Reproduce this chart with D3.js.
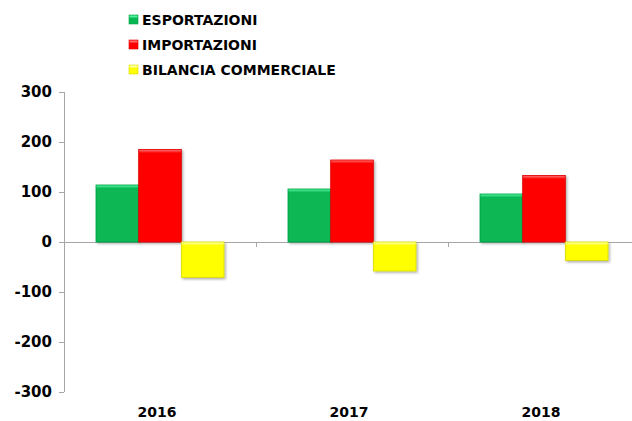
<!DOCTYPE html>
<meta charset="utf-8">
<style>
body { margin: 0; background: #fff; }
text { font-family: "DejaVu Sans", Verdana, sans-serif; font-weight: bold; fill: #000; }
.axis path, .axis line { stroke: #a6a6a6; }
</style>
<svg width="632" height="421"></svg>
<script src="https://cdn.jsdelivr.net/npm/d3@7/dist/d3.min.js"></script>
<script>

var years = ["2016", "2017", "2018"];
var series = ["ESPORTAZIONI", "IMPORTAZIONI", "BILANCIA COMMERCIALE"];
var esportazioni = [114, 106, 96];
var importazioni = [185, 164, 133];
var bilancia = [-71, -58, -37];
var yTicks = [300, 200, 100, 0, -100, -200, -300];

var colors = ["#08b752", "#ff0000", "#ffff00"];
var lights = ["#4ff09a", "#ff6b6b", "#ffffa8"];
var edges = ["#07a048", "#e00000", "#d6d600"];

var svg = d3.select("svg"),
    margin = {top: 92, right: -8, bottom: 29, left: 64},
    width = +svg.attr("width") - margin.left - margin.right,
    height = +svg.attr("height") - margin.top - margin.bottom;

var defs = svg.append("defs");
var f = defs.append("filter").attr("id", "shadow")
    .attr("x", "-20%").attr("y", "-20%").attr("width", "150%").attr("height", "150%");
f.append("feDropShadow").attr("dx", 1.5).attr("dy", 1.5).attr("stdDeviation", 1.2)
    .attr("flood-color", "#000").attr("flood-opacity", 0.3);

colors.forEach(function(c, i) {
  var gr = defs.append("linearGradient").attr("id", "g" + i)
      .attr("x1", 0).attr("y1", 0).attr("x2", 0).attr("y2", 1);
  gr.append("stop").attr("offset", 0).attr("stop-color", lights[i]);
  gr.append("stop").attr("offset", 1).attr("stop-color", c);
});

var x0 = d3.scaleBand().domain(years).range([0, width]).paddingInner(0).paddingOuter(0);
var x1 = d3.scaleBand().domain(series).range([0, x0.bandwidth()]).paddingOuter(0.75).paddingInner(0);
var y = d3.scaleLinear().domain([-300, 300]).range([height, 0]);

var g = svg.append("g").attr("transform", "translate(" + margin.left + "," + margin.top + ")");

// y axis
var yAxis = g.append("g").attr("class", "axis")
    .call(d3.axisLeft(y).tickValues(yTicks).tickSize(5).tickPadding(7).tickSizeOuter(0)
      .tickFormat(function(d) { return String(d); }));
yAxis.select(".domain").attr("d", "M0.5," + y(-300) + "V" + y(300));
yAxis.selectAll(".tick line").attr("x1", -5).attr("x2", 0);
yAxis.selectAll("text").style("font-size", "15px").attr("fill", "#000");

// zero category axis
var xAxis = g.append("g").attr("class", "axis")
    .attr("transform", "translate(0," + y(0) + ")");
xAxis.append("line").attr("x1", 0).attr("x2", width).attr("y1", 0.5).attr("y2", 0.5)
    .attr("stroke", "#a6a6a6");
xAxis.selectAll(".ct").data(years.slice(1)).enter().append("line")
    .attr("x1", function(d) { return Math.round(x0(d)) + 0.5; })
    .attr("x2", function(d) { return Math.round(x0(d)) + 0.5; })
    .attr("y1", 0).attr("y2", 5).attr("stroke", "#a6a6a6");

// year labels
g.selectAll(".yl").data(years).enter().append("text")
    .attr("x", function(d) { return x0(d) + x0.bandwidth() / 2 - 3; })
    .attr("y", height + 25)
    .attr("text-anchor", "middle")
    .style("font-size", "14px")
    .text(function(d) { return d; });

// bars
var rows = years.map(function(yr, i) {
  return {year: yr, vals: [esportazioni[i], importazioni[i], bilancia[i]]};
});

var grp = g.selectAll(".grp").data(rows).enter().append("g")
    .attr("transform", function(d) { return "translate(" + x0(d.year) + ",0)"; });

var cells = grp.selectAll(".bar").data(function(d) {
  return d.vals.map(function(v, j) { return {key: series[j], v: v, j: j}; });
}).enter().append("g").attr("class", "bar");

cells.append("rect")
    .attr("x", function(d) { return x1(d.key); })
    .attr("y", function(d) { return y(Math.max(0, d.v)); })
    .attr("width", x1.bandwidth())
    .attr("height", function(d) { return Math.abs(y(d.v) - y(0)); })
    .attr("fill", function(d) { return colors[d.j]; })
    .attr("stroke", function(d) { return edges[d.j]; })
    .attr("stroke-width", 0.8)
    .attr("filter", "url(#shadow)");

// bevel highlight on top edge
cells.append("rect")
    .attr("x", function(d) { return x1(d.key) + 0.5; })
    .attr("y", function(d) { return y(Math.max(0, d.v)) + 0.5; })
    .attr("width", x1.bandwidth() - 1)
    .attr("height", 3)
    .attr("fill", function(d) { return "url(#g" + d.j + ")"; });

// legend
var legend = svg.append("g").attr("transform", "translate(129,12)");
var li = legend.selectAll(".li").data(series).enter().append("g")
    .attr("transform", function(d, i) { return "translate(0," + i * 25 + ")"; });
li.append("rect").attr("width", 9).attr("height", 9).attr("y", 3)
    .attr("fill", function(d, i) { return colors[i]; })
    .attr("stroke", function(d, i) { return edges[i]; }).attr("stroke-width", 0.6);
li.append("rect").attr("width", 8).attr("height", 2).attr("x", 0.5).attr("y", 3.5)
    .attr("fill", function(d, i) { return lights[i]; });
li.append("text").attr("x", 13).attr("y", 13)
    .style("font-size", "14px")
    .text(function(d) { return d; });

</script>
